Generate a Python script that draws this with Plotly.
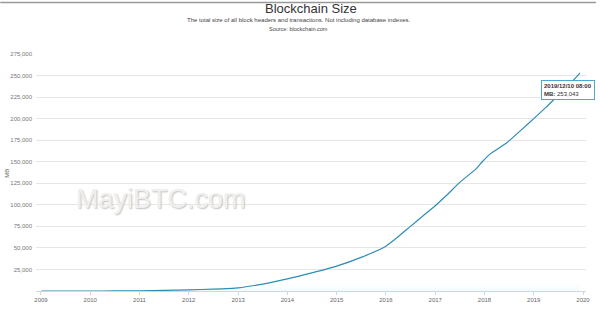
import plotly.graph_objects as go

dates = ["2009-01-03", "2009-07-01", "2010-01-01", "2010-07-01", "2011-01-01", "2011-07-01",
         "2012-01-01", "2012-07-01", "2013-01-01", "2013-07-01", "2014-01-01", "2014-07-01",
         "2015-01-01", "2015-07-01", "2016-01-01", "2016-04-01", "2016-07-01", "2016-10-01",
         "2017-01-01", "2017-04-01", "2017-07-01", "2017-11-01", "2017-12-15", "2018-02-20",
         "2018-06-15", "2018-10-01", "2019-01-01", "2019-04-01", "2019-07-01", "2019-10-01",
         "2019-12-10"]
size_mb = [0, 2, 10, 50, 250, 700,
           1300, 2200, 3700, 8000, 14000, 21000,
           28800, 39000, 52000, 63000, 75000, 87000,
           99000, 112000, 126000, 142000, 150000, 160000,
           172000, 187000, 200000, 213000, 227000, 241000,
           253043]
y_ticks = [25000, 50000, 75000, 100000, 125000, 150000, 175000, 200000, 225000, 250000, 275000]
x_ticks = [f"{y}-01-01" for y in range(2009, 2021)]
x_labels = [str(y) for y in range(2009, 2021)]

L, R, T, B = 36, 10, 54, 13
W, H = 600, 313
pw, ph = W - L - R, H - T - B

def px(x):
    return (x - L) / pw

def py(y):
    return (H - B - y) / ph

fig = go.Figure()
fig.add_trace(go.Scatter(
    x=dates, y=size_mb, mode="lines",
    line=dict(color="#2f8cb5", width=1.2, shape="spline", smoothing=0.5),
    fill="tozeroy",
    fillgradient=dict(type="vertical", start=0, stop=25000,
                      colorscale=[[0, "rgba(90,205,225,0.22)"], [1, "rgba(255,255,255,0)"]]),
    hoverinfo="skip",
))

fig.update_layout(
    width=W, height=H,
    margin=dict(l=L, r=R, t=T, b=B),
    paper_bgcolor="white", plot_bgcolor="white",
    showlegend=False,
    font=dict(family="Liberation Sans, Arial, sans-serif", color="#666"),
    xaxis=dict(
        type="date", range=["2008-11-25", "2020-01-23"],
        tickvals=x_ticks, ticktext=x_labels,
        showgrid=False, showline=True, linecolor="#ccd6eb", linewidth=1,
        ticks="outside", ticklen=3, tickcolor="#ccd6eb",
        tickfont=dict(size=6, color="#666"), zeroline=False,
    ),
    yaxis=dict(
        range=[0, 275000], tickvals=y_ticks,
        ticktext=[f"{v:,}" for v in y_ticks],
        showgrid=True, gridcolor="#e6e6e6", gridwidth=1,
        zeroline=False, showline=False,
        tickfont=dict(size=6, color="#777"), ticks="", ticklabelstandoff=3,
    ),
)

ann = [
    dict(text="Blockchain Size", x=0.5, xref="paper", xanchor="center",
         y=py(7), yref="paper", yanchor="middle", showarrow=False,
         font=dict(size=13, color="#333", family="Liberation Sans, Arial, sans-serif")),
    dict(text="The total size of all block headers and transactions. Not including database indexes.",
         x=px(300), xref="paper", xanchor="center", y=py(19), yref="paper", yanchor="middle",
         showarrow=False, font=dict(size=6, color="#444")),
    dict(text="Source: blockchain.com", x=px(300), xref="paper", xanchor="center",
         y=py(28), yref="paper", yanchor="middle", showarrow=False,
         font=dict(size=5.5, color="#444")),
    dict(text="MB", x=px(7), xref="paper", xanchor="center", y=py(178), yref="paper",
         yanchor="middle", textangle=-90, showarrow=False, font=dict(size=6, color="#666")),
    dict(text="MayiBTC.com", x=px(162), xref="paper", xanchor="center", y=py(205),
         yref="paper", yanchor="middle", showarrow=False,
         font=dict(size=27, color="#efefef", family="Liberation Sans, Arial, sans-serif",
                   shadow="1px 1px 1.5px #c2c2c2")),
    dict(text="<b>2019/12/10 08:00</b><br><b>MB:</b> 253,043", x=px(545), xref="paper",
         xanchor="left", y=py(81), yref="paper", yanchor="top", showarrow=False, align="left",
         bgcolor="rgba(255,255,255,0.95)", bordercolor="#4ea6cc", borderwidth=1, borderpad=2,
         font=dict(size=6, color="#333")),
]
fig.update_layout(annotations=ann)
fig.add_shape(type="line", xref="paper", yref="paper", x0=px(0), x1=px(600),
              y0=py(0.5), y1=py(0.5), line=dict(color="#999", width=1.5))

fig.write_html("out.html")
